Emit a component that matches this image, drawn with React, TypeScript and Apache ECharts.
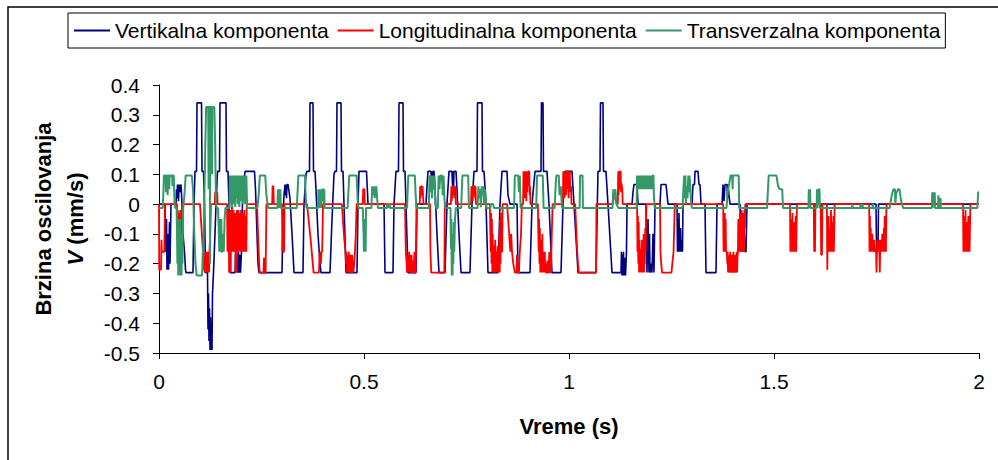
import React, { useEffect, useRef } from "react";
import * as echarts from "echarts";

// Vertikalna komponenta: [time (s), V (mm/s)]
const vertikalna: [number, number][] = [
  [0, 0], [0.0146, 0], [0.0159, -0.16], [0.0183, -0.05], [0.0195, -0.22], [0.022, -0.1], [0.0232, -0.22], [0.0256, -0.06], [0.0268, -0.2], [0.0293, 0],
  [0.0415, 0], [0.0427, 0.05], [0.0439, 0.02], [0.0451, 0.066], [0.0476, 0.01], [0.0488, 0.066], [0.0512, 0.04], [0.0537, 0.066], [0.0561, 0], [0.0585, -0.1], [0.0622, -0.16], [0.0646, -0.22], [0.0659, -0.23],
  [0.0829, -0.23], [0.0854, 0], [0.0878, 0.11], [0.0915, 0.11], [0.0927, 0.34], [0.1037, 0.34], [0.1049, 0.11], [0.1085, 0.11], [0.111, 0], [0.1134, -0.23], [0.1183, -0.23], [0.1195, -0.42], [0.1207, -0.3], [0.122, -0.46], [0.1232, -0.35], [0.1244, -0.49], [0.1256, -0.38], [0.1268, -0.49], [0.128, -0.4], [0.1293, -0.49], [0.1305, -0.3], [0.1329, -0.23], [0.1366, -0.1], [0.139, 0], [0.1427, 0.11], [0.1476, 0.11], [0.1488, 0.34], [0.1634, 0.34], [0.1646, 0.11], [0.1683, 0.11], [0.1707, 0], [0.1732, -0.23],
  [0.1854, -0.23], [0.1866, -0.17], [0.1878, -0.23], [0.189, -0.16], [0.1902, -0.23], [0.1915, -0.18], [0.1927, -0.23], [0.1939, -0.16], [0.1951, -0.23], [0.1976, -0.17], [0.1988, -0.23], [0.2012, -0.16], [0.2024, -0.05], [0.2049, 0.05], [0.2098, 0.11], [0.2329, 0.11], [0.2354, 0.05], [0.2378, -0.05], [0.2415, -0.2], [0.2439, -0.23],
  [0.3, -0.23], [0.3024, -0.05], [0.3049, 0.03], [0.3073, 0.066], [0.3085, 0.03], [0.3098, 0.066], [0.311, 0.02], [0.3122, 0.066], [0.3146, 0.066], [0.3195, 0.02], [0.3244, -0.1], [0.3293, -0.23],
  [0.3512, -0.23], [0.3537, 0], [0.3585, 0.1], [0.361, 0.11], [0.3671, 0.11], [0.3683, 0.34], [0.3756, 0.34], [0.3768, 0.11], [0.3805, 0.11], [0.3829, 0.05], [0.3878, -0.1], [0.3927, -0.2], [0.3951, -0.23],
  [0.4171, -0.23], [0.422, -0.05], [0.4268, 0.1], [0.4293, 0.11], [0.4329, 0.11], [0.4341, 0.34], [0.4439, 0.34], [0.4451, 0.11], [0.4488, 0.11], [0.4512, 0], [0.4561, -0.23],
  [0.4829, -0.23], [0.4854, 0], [0.4878, 0.11], [0.5061, 0.11], [0.5098, 0], [0.5488, 0], [0.5512, -0.23], [0.5707, -0.23], [0.5732, 0], [0.578, 0.11], [0.5841, 0.11], [0.5854, 0.34], [0.5951, 0.34], [0.5963, 0.11], [0.6, 0.11], [0.6024, 0], [0.6073, -0.23], [0.6268, -0.23], [0.6293, 0],
  [0.6512, 0], [0.6537, 0.06], [0.6561, 0.11], [0.6634, 0.11], [0.6646, 0.06], [0.6659, 0.11], [0.6671, 0.05], [0.6683, 0.11], [0.6707, 0.11], [0.6732, 0.05], [0.678, -0.1], [0.6829, -0.23], [0.6976, -0.23], [0.7024, 0], [0.7073, 0.11], [0.7146, 0.11], [0.7159, 0.06], [0.7171, 0.11], [0.7183, 0.05], [0.7195, 0.11], [0.7244, 0.11], [0.7268, 0.05], [0.7317, -0.1], [0.7366, -0.23],
  [0.7585, -0.23], [0.7634, 0], [0.7683, 0.11], [0.7756, 0.11], [0.7768, 0.34], [0.7878, 0.34], [0.789, 0.11], [0.7927, 0.11], [0.7976, 0], [0.8024, -0.23], [0.8268, -0.23], [0.8317, 0], [0.8366, 0.11], [0.8488, 0.11], [0.8512, 0.03], [0.8561, 0],
  [0.8732, 0], [0.8756, -0.23], [0.9049, -0.23], [0.9098, 0], [0.9171, 0.11], [0.9317, 0.11], [0.9329, 0.34], [0.9366, 0.34], [0.9378, 0.11], [0.9463, 0.11], [0.9512, 0], [0.9585, -0.23], [0.9805, -0.23], [0.9854, 0], [0.9902, 0.11], [1.0073, 0.11], [1.0122, 0], [1.022, -0.23], [1.0659, -0.23], [1.0707, 0.11], [1.0756, 0.11], [1.0768, 0.34], [1.0829, 0.34], [1.0841, 0.11], [1.0902, 0.11], [1.0951, 0], [1.1049, -0.23],
  [1.1268, -0.23], [1.128, -0.16], [1.1293, -0.24], [1.1305, -0.17], [1.1317, -0.24], [1.1329, -0.16], [1.1341, -0.24], [1.1366, -0.18], [1.1378, -0.24], [1.1402, -0.16], [1.1415, 0],
  [1.1537, 0], [1.1561, 0.04], [1.1585, 0.066], [1.1659, 0.066], [1.1683, 0], [1.1878, 0], [1.1902, -0.23], [1.1927, -0.05], [1.1951, -0.23], [1.1963, -0.1], [1.1976, -0.23], [1.2, -0.2], [1.2024, -0.23], [1.2049, -0.1], [1.2073, -0.23], [1.2098, 0],
  [1.222, 0], [1.2244, 0.066], [1.2366, 0.066], [1.2415, 0], [1.2634, 0], [1.2646, -0.16], [1.2659, -0.05], [1.2671, -0.16], [1.2683, -0.03], [1.2695, -0.16], [1.272, -0.08], [1.2732, -0.16], [1.2756, -0.12], [1.2768, -0.16], [1.278, 0],
  [1.3, 0], [1.3024, 0.066], [1.3061, 0.066], [1.3073, 0.11], [1.3146, 0.11], [1.3171, 0.066], [1.3195, 0.066], [1.322, 0], [1.3317, 0], [1.3341, -0.23], [1.3585, -0.23], [1.361, 0],
  [1.3732, 0], [1.3756, 0.066], [1.378, 0.01], [1.3805, 0.066], [1.3854, 0.066], [1.3866, 0.02], [1.3878, 0.066], [1.3902, 0.03], [1.3927, 0],
  [1.4171, 0], [1.4195, -0.16], [1.422, -0.05], [1.4244, -0.16], [1.4268, -0.08], [1.4293, -0.16], [1.4317, -0.16], [1.4341, 0],
  [1.7488, 0], [1.75, -0.15], [1.7537, -0.15], [1.7549, 0], [2, 0],
];

// Longitudinalna komponenta
const longitudinalna: [number, number][] = [
  [0, 0], [0.0005, -0.22], [0.005, -0.22], [0.006, -0.12], [0.007, -0.16], [0.013, -0.16], [0.0145, 0],
  [0.044, 0], [0.045, -0.12], [0.046, -0.02], [0.047, -0.13], [0.048, -0.03], [0.049, -0.12], [0.05, -0.04], [0.051, -0.13], [0.052, -0.02], [0.053, -0.12], [0.054, -0.05], [0.055, -0.13], [0.056, -0.02], [0.057, 0],
  [0.1, 0], [0.11, -0.22], [0.112, -0.23], [0.113, -0.16], [0.114, -0.23], [0.115, -0.17], [0.116, -0.23], [0.117, -0.16], [0.118, -0.23], [0.119, -0.18], [0.12, -0.23], [0.121, -0.16], [0.122, -0.23], [0.123, -0.16], [0.125, -0.1], [0.1265, 0],
  [0.136, 0], [0.137, 0.04], [0.142, 0.04], [0.143, 0],
  [0.166, 0], [0.167, -0.16], [0.168, -0.02], [0.169, -0.16], [0.17, -0.05], [0.171, -0.23], [0.172, -0.03], [0.173, -0.16], [0.174, -0.02], [0.175, -0.23], [0.176, -0.05], [0.177, -0.16], [0.178, -0.01], [0.179, -0.16], [0.18, -0.04], [0.181, -0.16], [0.182, -0.02], [0.183, -0.16], [0.184, -0.05], [0.185, -0.16], [0.186, -0.03], [0.187, -0.23], [0.188, -0.05], [0.189, -0.23], [0.19, -0.02], [0.191, -0.16], [0.192, -0.04], [0.193, -0.16], [0.194, -0.02], [0.195, -0.16], [0.196, -0.05], [0.197, -0.16], [0.198, -0.03], [0.199, -0.16], [0.2, -0.02], [0.201, -0.16], [0.202, -0.05], [0.203, -0.16], [0.204, -0.03], [0.205, -0.16], [0.206, -0.06], [0.207, -0.16], [0.208, -0.02], [0.209, -0.16], [0.21, -0.04], [0.211, -0.16], [0.212, -0.08], [0.213, -0.16], [0.214, 0],
  [0.239, 0], [0.243, -0.16], [0.245, -0.22], [0.246, -0.23], [0.255, -0.23], [0.256, -0.18], [0.257, -0.23], [0.26, -0.23], [0.262, 0],
  [0.276, 0], [0.277, 0.06], [0.279, 0.06], [0.28, 0],
  [0.3, 0], [0.301, -0.16], [0.302, -0.05], [0.303, -0.16], [0.305, -0.16], [0.306, 0],
  [0.361, 0], [0.37, -0.12], [0.375, -0.2], [0.377, -0.23], [0.39, -0.23], [0.392, -0.16], [0.395, -0.2], [0.396, -0.16], [0.398, -0.16], [0.4, 0],
  [0.446, 0], [0.452, -0.12], [0.455, -0.16], [0.456, -0.2], [0.457, -0.16], [0.458, -0.23], [0.459, -0.17], [0.46, -0.23], [0.461, -0.18], [0.462, -0.23], [0.463, -0.16], [0.464, -0.23], [0.465, -0.19], [0.466, -0.23], [0.467, -0.17], [0.468, -0.23], [0.469, -0.2], [0.47, -0.23], [0.471, -0.17], [0.472, -0.23], [0.473, -0.19], [0.474, -0.23], [0.476, -0.2], [0.478, -0.16], [0.48, -0.1], [0.482, 0],
  [0.497, 0], [0.498, 0.05], [0.501, 0.05], [0.502, 0],
  [0.6, 0], [0.602, -0.16], [0.604, -0.2], [0.605, -0.23], [0.606, -0.17], [0.607, -0.23], [0.608, -0.18], [0.609, -0.23], [0.61, -0.16], [0.611, -0.23], [0.612, -0.17], [0.613, -0.23], [0.614, -0.19], [0.615, -0.23], [0.616, -0.17], [0.617, -0.23], [0.618, -0.19], [0.619, -0.23], [0.621, -0.23], [0.623, -0.16], [0.624, -0.23], [0.626, -0.23], [0.628, 0],
  [0.636, 0], [0.637, 0.06], [0.638, 0.02], [0.639, 0.06], [0.641, 0.06], [0.642, 0.03], [0.643, 0.06], [0.645, 0],
  [0.661, 0], [0.662, -0.16], [0.664, -0.23], [0.696, -0.23], [0.697, 0],
  [0.712, 0], [0.713, 0.06], [0.714, 0.01], [0.715, 0.06], [0.716, 0.02], [0.717, 0.06], [0.718, 0.03], [0.719, 0.06], [0.721, 0.06], [0.722, 0.02], [0.723, 0.06], [0.724, 0],
  [0.761, 0], [0.762, 0.06], [0.763, 0.02], [0.764, 0.06], [0.765, 0.01], [0.766, 0.06], [0.767, 0.03], [0.768, 0.06], [0.77, 0.06], [0.771, 0.02], [0.772, 0.06], [0.773, 0],
  [0.807, 0], [0.809, -0.16], [0.81, -0.03], [0.811, -0.2], [0.812, -0.05], [0.813, -0.23], [0.814, -0.1], [0.815, -0.23], [0.816, -0.14], [0.817, -0.23], [0.818, -0.16], [0.819, -0.23], [0.82, -0.12], [0.821, -0.23], [0.822, -0.16], [0.823, -0.23], [0.824, -0.18], [0.825, -0.23], [0.826, -0.14], [0.827, -0.23], [0.828, -0.16], [0.829, -0.23], [0.83, -0.1], [0.831, -0.23], [0.832, -0.05], [0.833, -0.2], [0.834, -0.03], [0.835, -0.16], [0.837, -0.16], [0.838, 0],
  [0.849, 0], [0.857, -0.16], [0.859, -0.1], [0.861, -0.16], [0.864, -0.2], [0.868, -0.23], [0.872, -0.23], [0.873, -0.17], [0.874, -0.23], [0.878, -0.23], [0.88, -0.16], [0.883, -0.1], [0.885, 0],
  [0.888, 0], [0.889, 0.11], [0.89, 0.03], [0.891, 0.11], [0.892, 0.02], [0.893, 0.11], [0.894, 0.05], [0.895, 0.11], [0.896, 0.01], [0.897, 0.11], [0.898, 0.04], [0.899, 0.11], [0.9, 0.06], [0.901, 0.11], [0.903, 0.11], [0.904, 0.03], [0.905, 0.06], [0.906, 0],
  [0.924, 0], [0.926, -0.16], [0.927, -0.05], [0.928, -0.2], [0.929, -0.08], [0.93, -0.23], [0.931, -0.12], [0.932, -0.23], [0.933, -0.15], [0.934, -0.23], [0.935, -0.1], [0.936, -0.23], [0.937, -0.16], [0.938, -0.23], [0.939, -0.18], [0.94, -0.23], [0.941, -0.16], [0.942, -0.23], [0.943, -0.2], [0.944, -0.23], [0.946, -0.23], [0.947, -0.19], [0.948, -0.23], [0.95, -0.23], [0.952, -0.16], [0.954, -0.23], [0.956, -0.23], [0.958, -0.1], [0.96, 0],
  [0.985, 0], [0.986, 0.11], [0.987, 0.04], [0.988, 0.11], [0.989, 0.02], [0.99, 0.11], [0.991, 0.06], [0.992, 0.11], [0.993, 0.03], [0.994, 0.11], [0.996, 0.11], [0.997, 0.05], [0.998, 0.11], [0.999, 0.02], [1.0, 0.06], [1.002, 0.11], [1.003, 0.04], [1.005, 0.06], [1.006, 0],
  [1.015, 0], [1.02, -0.16], [1.022, -0.2], [1.024, -0.23], [1.066, -0.23], [1.067, 0],
  [1.107, 0], [1.11, 0.04], [1.113, 0.02], [1.116, 0],
  [1.119, 0], [1.12, 0.11], [1.121, 0.03], [1.122, 0.11], [1.123, 0.05], [1.124, 0.11], [1.126, 0.11], [1.127, 0.04], [1.128, 0.07], [1.13, 0.05], [1.131, 0],
  [1.166, 0], [1.167, -0.16], [1.168, -0.04], [1.169, -0.2], [1.17, -0.06], [1.171, -0.23], [1.172, -0.12], [1.173, -0.23], [1.174, -0.15], [1.175, -0.23], [1.176, -0.16], [1.177, -0.23], [1.178, -0.12], [1.179, -0.23], [1.18, -0.16], [1.181, -0.23], [1.182, -0.1], [1.183, -0.23], [1.184, -0.16], [1.185, -0.2], [1.186, -0.08], [1.187, -0.16], [1.188, -0.05], [1.189, 0],
  [1.222, 0], [1.223, -0.16], [1.225, -0.2], [1.227, -0.23], [1.25, -0.23], [1.252, -0.2], [1.255, -0.16], [1.257, -0.05], [1.258, 0],
  [1.376, 0], [1.377, -0.16], [1.378, -0.04], [1.379, -0.16], [1.38, -0.03], [1.381, -0.16], [1.382, -0.05], [1.383, -0.16], [1.385, -0.16], [1.386, -0.2], [1.387, -0.16], [1.388, -0.23], [1.389, -0.17], [1.39, -0.23], [1.391, -0.19], [1.392, -0.23], [1.393, -0.16], [1.394, -0.23], [1.395, -0.2], [1.396, -0.23], [1.397, -0.17], [1.398, -0.23], [1.399, -0.19], [1.4, -0.23], [1.401, -0.16], [1.402, -0.23], [1.403, -0.2], [1.404, -0.23], [1.405, -0.17], [1.406, -0.23], [1.407, -0.19], [1.408, -0.23], [1.409, -0.16], [1.41, -0.23], [1.411, -0.18], [1.412, -0.16], [1.413, -0.05], [1.414, -0.16], [1.415, -0.08], [1.416, -0.16], [1.417, -0.03], [1.418, -0.14], [1.419, -0.06], [1.42, -0.16], [1.421, -0.02], [1.422, -0.12], [1.423, -0.04], [1.424, -0.16], [1.425, -0.03], [1.426, -0.1], [1.427, -0.16], [1.428, -0.02], [1.429, -0.08], [1.43, 0],
  [1.539, 0], [1.54, -0.16], [1.541, -0.05], [1.542, -0.16], [1.543, -0.08], [1.544, -0.16], [1.545, -0.03], [1.546, -0.16], [1.547, -0.1], [1.548, -0.16], [1.549, -0.06], [1.55, -0.16], [1.551, -0.12], [1.552, -0.16], [1.553, -0.04], [1.554, -0.16], [1.555, -0.16], [1.556, 0],
  [1.597, 0], [1.598, -0.16], [1.599, -0.05], [1.6, -0.16], [1.601, 0],
  [1.614, 0], [1.615, -0.17], [1.617, -0.17], [1.618, 0],
  [1.629, 0], [1.63, -0.22], [1.631, -0.1], [1.632, -0.16], [1.633, -0.04], [1.634, -0.16], [1.635, -0.08], [1.636, -0.16], [1.637, -0.12], [1.638, -0.16], [1.639, -0.02], [1.64, -0.16], [1.641, -0.06], [1.642, -0.16], [1.643, -0.1], [1.644, -0.16], [1.645, -0.04], [1.646, -0.16], [1.647, -0.16], [1.648, 0],
  [1.732, 0], [1.733, -0.16], [1.734, -0.04], [1.735, -0.16], [1.736, -0.08], [1.737, -0.16], [1.738, -0.12], [1.739, -0.16], [1.74, -0.1], [1.741, -0.16], [1.742, -0.14], [1.743, -0.16], [1.744, -0.12], [1.745, -0.16], [1.746, -0.14], [1.747, -0.16], [1.748, -0.16], [1.749, -0.16], [1.75, -0.23], [1.751, -0.16], [1.752, -0.12], [1.753, -0.16], [1.754, -0.14], [1.755, -0.16], [1.756, -0.12], [1.757, -0.16], [1.758, -0.23], [1.759, -0.16], [1.76, -0.12], [1.761, -0.16], [1.762, -0.13], [1.763, -0.16], [1.764, -0.1], [1.765, -0.16], [1.766, -0.14], [1.767, -0.16], [1.768, -0.08], [1.769, -0.16], [1.77, -0.04], [1.771, -0.16], [1.772, -0.06], [1.773, -0.16], [1.774, -0.02], [1.775, 0],
  [1.961, 0], [1.962, -0.16], [1.963, -0.04], [1.964, -0.16], [1.965, -0.08], [1.966, -0.16], [1.967, -0.02], [1.968, -0.16], [1.969, -0.12], [1.97, -0.16], [1.971, -0.06], [1.972, -0.16], [1.973, -0.16], [1.974, -0.04], [1.975, -0.16], [1.976, -0.1], [1.977, -0.16], [1.978, -0.16], [1.979, 0],
  [2, 0],
];

// Transverzalna komponenta
const transverzalna: [number, number][] = [
  [0, -0.013], [0.009, -0.013], [0.011, 0.05], [0.012, 0.096], [0.016, 0.096], [0.017, 0.04], [0.018, 0.096], [0.02, 0.096], [0.021, 0.03], [0.022, 0.096], [0.024, 0.096], [0.025, 0.05], [0.026, 0.096], [0.032, 0.096], [0.033, 0.06], [0.034, 0.096], [0.036, 0.096], [0.038, 0], [0.04, -0.013],
  [0.043, -0.013], [0.045, -0.2], [0.046, -0.05], [0.047, -0.24], [0.048, -0.08], [0.049, -0.24], [0.05, -0.1], [0.051, -0.24], [0.052, -0.05], [0.053, -0.24], [0.054, -0.12], [0.055, -0.24], [0.056, -0.1], [0.057, -0.2], [0.059, -0.013],
  [0.062, 0.03], [0.065, 0.096], [0.08, 0.096], [0.083, 0.05], [0.086, -0.1], [0.089, -0.2], [0.092, -0.24], [0.105, -0.24], [0.107, -0.16], [0.109, -0.1], [0.111, 0.05], [0.113, 0.2], [0.115, 0.326], [0.12, 0.326], [0.121, 0.05], [0.122, 0.326], [0.124, 0.326], [0.1245, -0.2], [0.125, 0.326], [0.129, 0.326], [0.1295, 0.1], [0.13, 0.326], [0.135, 0.326], [0.137, 0.2], [0.139, 0], [0.141, -0.013],
  [0.144, -0.013], [0.146, -0.1], [0.147, -0.16], [0.148, -0.05], [0.149, -0.16], [0.15, -0.08], [0.151, -0.16], [0.152, -0.05], [0.153, -0.16], [0.155, -0.16], [0.156, -0.1], [0.158, -0.16], [0.16, -0.05], [0.162, -0.013],
  [0.172, -0.013], [0.173, 0.096], [0.174, 0], [0.175, 0.096], [0.176, 0.02], [0.177, 0.096], [0.178, -0.01], [0.179, 0.096], [0.18, 0.03], [0.181, 0.096], [0.182, 0], [0.183, 0.096], [0.184, 0.04], [0.185, 0.096], [0.186, -0.01], [0.187, 0.096], [0.188, 0.02], [0.189, 0.096], [0.19, 0.05], [0.191, 0.096], [0.192, 0], [0.193, 0.096], [0.194, 0.03], [0.195, 0.096], [0.196, -0.01], [0.197, 0.096], [0.198, 0.04], [0.199, 0.096], [0.2, 0.01], [0.201, 0.096], [0.202, 0.05], [0.203, 0.096], [0.204, 0], [0.205, 0.096], [0.206, 0.03], [0.207, 0.096], [0.208, 0.06], [0.209, 0.096], [0.21, 0], [0.211, 0.096], [0.212, 0.02], [0.213, 0.096], [0.215, -0.013],
  [0.24, -0.013], [0.243, 0.03], [0.246, 0.096], [0.259, 0.096], [0.262, 0.03], [0.266, -0.013],
  [0.289, -0.013], [0.29, 0.05], [0.291, -0.013], [0.293, 0.05], [0.294, -0.013], [0.296, 0.05], [0.297, -0.013],
  [0.336, -0.013], [0.34, 0.096], [0.356, 0.096], [0.358, 0.02], [0.36, -0.013],
  [0.388, -0.013], [0.389, 0.05], [0.39, -0.013], [0.392, 0.05], [0.393, 0], [0.394, 0.05], [0.395, -0.013], [0.397, 0.05], [0.398, 0.01], [0.399, 0.05], [0.401, 0.05], [0.402, 0], [0.403, 0.05], [0.404, -0.013],
  [0.46, -0.013], [0.464, 0.096], [0.482, 0.096], [0.485, 0], [0.487, -0.013],
  [0.497, -0.013], [0.499, -0.1], [0.5, -0.16], [0.501, -0.08], [0.502, -0.16], [0.503, -0.05], [0.504, -0.16], [0.505, -0.013],
  [0.518, -0.013], [0.52, 0.06], [0.522, 0.03], [0.524, 0.06], [0.526, 0.02], [0.528, 0.04], [0.53, 0.06], [0.532, 0.02], [0.534, -0.013],
  [0.556, -0.013], [0.557, 0], [0.559, -0.013], [0.562, 0], [0.564, -0.013],
  [0.605, -0.013], [0.608, 0.096], [0.624, 0.096], [0.626, 0.03], [0.628, -0.013],
  [0.658, -0.013], [0.66, 0.096], [0.662, 0.04], [0.664, 0.096], [0.666, 0.02], [0.668, 0.096], [0.67, 0.05], [0.672, 0.096], [0.674, 0], [0.676, -0.013], [0.68, -0.013], [0.682, 0.096], [0.684, 0.05], [0.686, 0.096], [0.69, 0.096], [0.692, 0.03], [0.694, 0.096], [0.696, 0.02], [0.698, -0.013],
  [0.711, -0.013], [0.712, -0.15], [0.713, -0.05], [0.714, -0.24], [0.715, -0.1], [0.716, -0.24], [0.717, -0.12], [0.718, -0.2], [0.719, -0.06], [0.72, -0.16], [0.722, -0.05], [0.724, -0.013],
  [0.737, -0.013], [0.74, 0.096], [0.754, 0.096], [0.756, -0.013],
  [0.777, -0.013], [0.779, 0.06], [0.781, 0.02], [0.783, 0.05], [0.785, -0.01], [0.787, 0.06], [0.789, 0.03], [0.791, 0.06], [0.793, 0], [0.795, 0.05], [0.797, 0.02], [0.799, -0.013],
  [0.808, -0.013], [0.81, 0], [0.815, 0], [0.817, -0.013],
  [0.866, -0.013], [0.868, 0.096], [0.876, 0.096], [0.878, 0.04], [0.88, 0.096], [0.882, -0.013],
  [0.92, -0.013], [0.922, 0.096], [0.936, 0.096], [0.938, -0.013],
  [0.965, -0.013], [0.967, 0.05], [0.969, 0.096], [0.975, 0.096], [0.977, 0.03], [0.98, 0.06], [0.983, -0.013],
  [1.026, -0.013], [1.027, 0.096], [1.033, 0.096], [1.034, -0.013],
  [1.106, -0.013], [1.108, 0.05], [1.11, 0.02], [1.113, 0.05], [1.116, 0], [1.12, -0.013],
  [1.165, -0.013], [1.166, 0.096], [1.167, 0.05], [1.168, 0.096], [1.169, 0.06], [1.17, 0.096], [1.171, 0.05], [1.172, 0.096], [1.173, 0.07], [1.174, 0.096], [1.175, 0.05], [1.176, 0.096], [1.177, 0.06], [1.178, 0.096], [1.179, 0.05], [1.18, 0.096], [1.181, 0.07], [1.182, 0.096], [1.183, 0.05], [1.184, 0.096], [1.185, 0.06], [1.186, 0.096], [1.187, 0.05], [1.188, 0.096], [1.189, 0.07], [1.19, 0.096], [1.191, 0.05], [1.192, 0.096], [1.193, 0.06], [1.194, 0.096], [1.195, 0.05], [1.196, 0.096], [1.197, 0.07], [1.198, 0.096], [1.199, 0.05], [1.2, 0.096], [1.201, 0.06], [1.202, 0.096], [1.203, 0.05], [1.204, 0.096], [1.206, 0.096], [1.207, 0.03], [1.209, -0.013],
  [1.277, -0.013], [1.279, 0.05], [1.281, 0.096], [1.282, 0.02], [1.284, 0.096], [1.285, 0], [1.287, 0.06], [1.289, 0.02], [1.291, 0.096], [1.292, 0.04], [1.294, 0.096], [1.296, 0.05], [1.298, 0], [1.3, -0.013],
  [1.384, -0.013], [1.388, 0.05], [1.391, 0.07], [1.394, 0.096], [1.398, 0.096], [1.399, 0.05], [1.4, 0.096], [1.414, 0.096], [1.415, -0.013],
  [1.483, -0.013], [1.487, 0.096], [1.506, 0.096], [1.51, 0.06], [1.514, 0.05], [1.52, 0.05], [1.522, -0.013],
  [1.584, -0.013], [1.585, 0.05], [1.586, -0.013], [1.588, 0.05], [1.589, -0.013], [1.604, -0.013], [1.605, 0.05], [1.606, -0.013], [1.609, 0.05], [1.611, 0.05], [1.612, -0.013],
  [1.69, -0.013], [1.691, 0], [1.692, -0.013], [1.71, -0.013], [1.711, 0], [1.712, -0.013], [1.715, -0.013], [1.716, 0], [1.717, -0.013], [1.74, -0.013], [1.741, 0], [1.742, -0.013],
  [1.782, -0.013], [1.786, 0.02], [1.789, 0.04], [1.792, 0.05], [1.795, 0.05], [1.796, 0], [1.798, 0.04], [1.8, 0.04], [1.802, 0.05], [1.806, 0.05], [1.81, 0.01], [1.815, -0.013],
  [1.885, -0.013], [1.886, 0.04], [1.887, -0.013], [1.889, 0.04], [1.89, 0], [1.892, 0.04], [1.893, -0.013], [1.9, -0.013], [1.901, 0.03], [1.902, -0.013], [1.905, -0.013], [1.906, 0.02], [1.907, -0.013],
  [1.996, -0.013], [1.998, 0.04], [2, 0.04],
];

const seriesNames = ["Vertikalna komponenta", "Longitudinalna komponenta", "Transverzalna komponenta"];
const seriesColors = ["#000080", "#FF0000", "#339966"];

const FONT = "'Liberation Sans', Arial, sans-serif";

export default function App() {
  const ref = useRef<HTMLDivElement>(null);
  useEffect(() => {
    if (!ref.current) return;
    const chart = echarts.init(ref.current, null, { renderer: "svg" });
    const datasets = [vertikalna, longitudinalna, transverzalna];
    const widths = [1.6, 1.8, 2];
    chart.setOption({
      animation: false,
      backgroundColor: "#ffffff",
      textStyle: { fontFamily: FONT, color: "#000" },
      graphic: [
        {
          type: "rect",
          silent: true,
          shape: { x: 8, y: 7, width: 1100, height: 600 },
          style: { fill: "none", stroke: "#000", lineWidth: 1.5 },
        },
      ],
      legend: {
        data: seriesNames,
        left: 68,
        top: 13,
        icon: "rect",
        itemWidth: 36,
        itemHeight: 2,
        itemGap: 9,
        padding: [6, 5, 6, 6],
        borderColor: "#000",
        borderWidth: 1,
        textStyle: { fontFamily: FONT, fontSize: 21, color: "#000", lineHeight: 23 },
      },
      grid: { left: 159, right: 19, top: 85, bottom: 107, containLabel: false },
      xAxis: {
        type: "value",
        min: 0,
        max: 2,
        interval: 0.5,
        name: "Vreme (s)",
        nameLocation: "middle",
        nameGap: 62,
        nameTextStyle: { fontFamily: FONT, fontSize: 22, fontWeight: "bold", color: "#000" },
        axisLine: { onZero: false, lineStyle: { color: "#000", width: 1 } },
        axisTick: { show: true, inside: false, length: 6, lineStyle: { color: "#000" } },
        axisLabel: { fontFamily: FONT, fontSize: 21, color: "#000", margin: 18 },
        splitLine: { show: false },
      },
      yAxis: {
        type: "value",
        min: -0.5,
        max: 0.4,
        interval: 0.1,
        name: "{a|Brzina oscilovanja}\n{b|V}{a| (mm/s)}",
        nameLocation: "middle",
        nameRotate: 90,
        nameGap: 68,
        nameTextStyle: {
          fontFamily: FONT,
          fontSize: 22,
          fontWeight: "bold",
          color: "#000",
          lineHeight: 32,
          rich: {
            a: { fontFamily: FONT, fontSize: 22, fontWeight: "bold", color: "#000", lineHeight: 32 },
            b: { fontFamily: FONT, fontSize: 22, fontWeight: "bold", fontStyle: "italic", color: "#000", lineHeight: 32 },
          },
        },
        axisLine: { show: true, onZero: false, lineStyle: { color: "#000", width: 1 } },
        axisTick: { show: true, inside: false, length: 6, lineStyle: { color: "#000" } },
        axisLabel: { fontFamily: FONT, fontSize: 21, color: "#000", margin: 19 },
        splitLine: { show: false },
      },
      series: seriesNames.map((name, i) => ({
        name,
        type: "line",
        data: datasets[i],
        color: seriesColors[i],
        showSymbol: false,
        symbol: "none",
        lineStyle: { color: seriesColors[i], width: widths[i] },
        itemStyle: { color: seriesColors[i] },
        z: 2 + i,
      })),
    });
    return () => chart.dispose();
  }, []);
  return (
    <div
      ref={ref}
      style={{ position: "absolute", left: 0, top: 0, width: 998, height: 460, background: "#fff" }}
    />
  );
}
